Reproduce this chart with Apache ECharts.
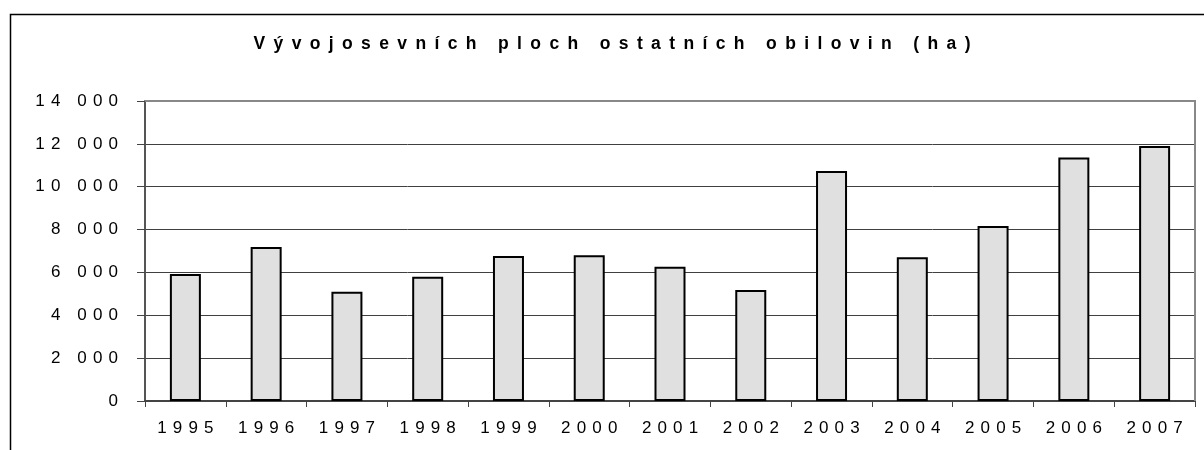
<!DOCTYPE html>
<html>
<head>
<meta charset="utf-8">
<script src="https://cdn.jsdelivr.net/npm/echarts@6/dist/echarts.min.js"></script>
<style>
html,body{margin:0;padding:0;background:#fff;}
#c{width:1204px;height:450px;}
</style>
</head>
<body>
<div id="c"></div>
<script>
const titleText = 'Vývojosevních ploch ostatních obilovin (ha)';
const years = ['1995','1996','1997','1998','1999','2000','2001','2002','2003','2004','2005','2006','2007'];
const areas = [5930, 7190, 5100, 5800, 6770, 6800, 6270, 5180, 10730, 6710, 8170, 11360, 11900];
const yMin = 0, yMax = 14000, yStep = 2000;

function spread(s, sep) { return s.split('').join(sep); }
function fmtThousands(v) { return String(v).replace(/\B(?=(\d{3})+(?!\d))/g, ' '); }
const LBL_SEP = ' \u200A';
const TITLE_SEP = ' \u2009';

const chart = echarts.init(document.getElementById('c'), null, {renderer: 'canvas'});
chart.setOption({
  animation: false,
  backgroundColor: '#fff',
  title: {
    text: spread(titleText, TITLE_SEP),
    left: 607, top: 30, textAlign: 'center',
    textStyle: {fontFamily: 'Liberation Sans, Arial', fontSize: 17.5, fontWeight: 'bold', color: '#000'}
  },
  graphic: [
    {type: 'rect', silent: true, z: -1, shape: {x: 10.5, y: 14.5, width: 1300, height: 600},
     style: {fill: null, stroke: '#000', lineWidth: 1.5}},
    {type: 'polyline', silent: true, z: 1, shape: {points: [[145, 101], [1195, 101], [1195, 401]]},
     style: {fill: null, stroke: '#888', lineWidth: 2}}
  ],
  grid: {left: 145, right: 9, top: 101, bottom: 49, containLabel: false},
  xAxis: {
    type: 'category', data: years,
    axisLine: {lineStyle: {color: '#444', width: 2}},
    axisTick: {show: true, length: 6, lineStyle: {color: '#444', width: 1}},
    axisLabel: {margin: 19, color: '#000', fontFamily: 'Liberation Sans, Arial', fontSize: 17,
      formatter: v => spread(v, LBL_SEP)}
  },
  yAxis: {
    type: 'value', min: yMin, max: yMax, interval: yStep,
    axisLine: {show: true, lineStyle: {color: '#555', width: 2}},
    axisTick: {show: true, length: 8, lineStyle: {color: '#444', width: 1}},
    splitLine: {show: true, lineStyle: {color: '#404040', width: 1}},
    axisLabel: {margin: 27, color: '#000', fontFamily: 'Liberation Sans, Arial', fontSize: 17,
      formatter: v => spread(fmtThousands(v), LBL_SEP)}
  },
  series: [{
    type: 'bar', data: areas, barWidth: 31,
    itemStyle: {color: '#e0e0e0', borderColor: '#000', borderWidth: 2}
  }]
});
</script>
</body>
</html>
